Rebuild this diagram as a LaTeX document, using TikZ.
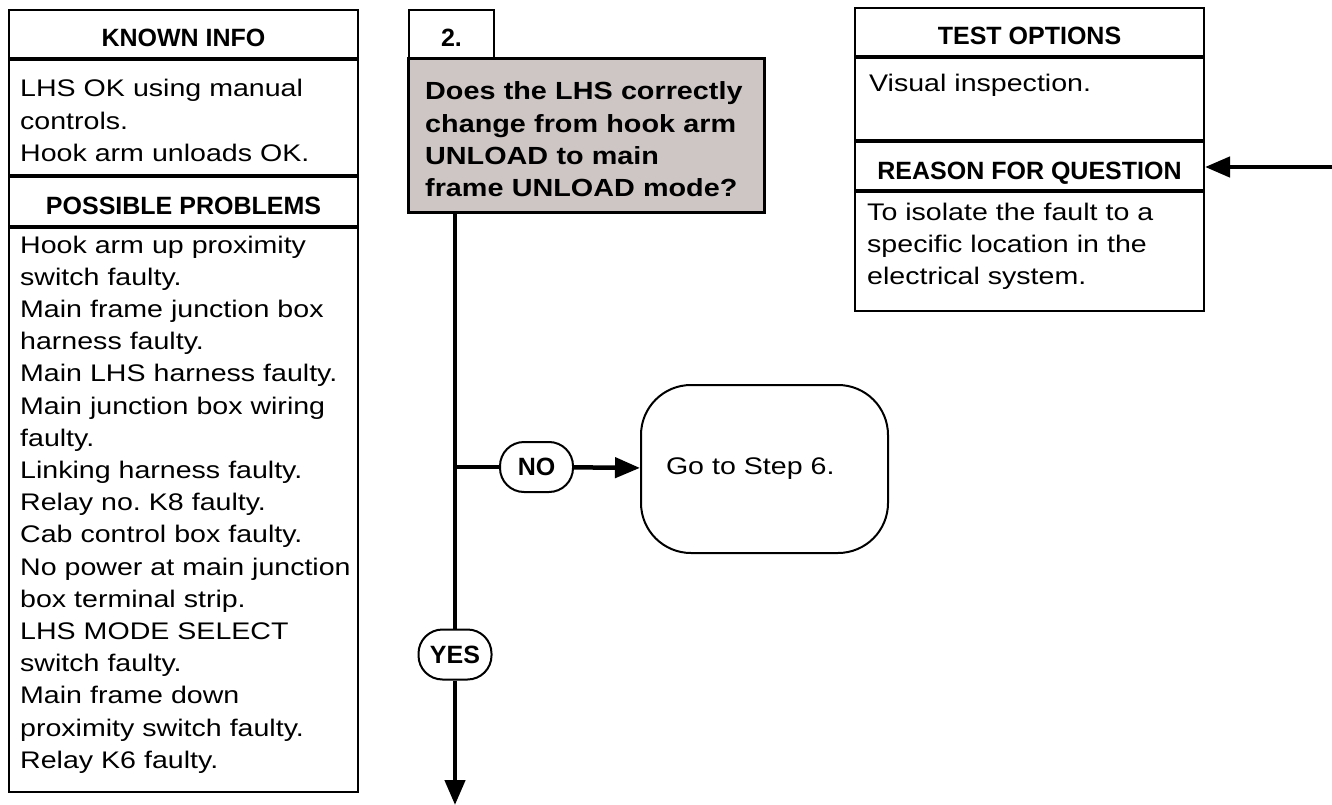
\documentclass[tikz,border=0pt]{standalone}
\usepackage{fontspec}
\setmainfont{Liberation Sans}
\newfontfamily\bodyfont[FakeStretch=1.19]{Liberation Sans}
\newfontfamily\askfont[FakeStretch=1.16]{Liberation Sans}
\usetikzlibrary{arrows.meta, positioning}
\definecolor{askgray}{HTML}{CDC6C4}
\frenchspacing

\begin{document}
\begin{tikzpicture}[x=1pt, y=-1pt,
    panel/.style={draw=black, line width=2pt, inner sep=0pt, anchor=north west, minimum width=349pt},
    headbox/.style={panel, minimum height=48pt, font=\fontsize{25}{30}\selectfont\bfseries, text height=26pt, text depth=0pt},
    bodytext/.style={inner sep=0pt, anchor=base west, text width=400pt, align=left, font=\bodyfont\fontsize{24}{32.2}\selectfont},
    asktext/.style={bodytext, font=\askfont\fontsize{24.8}{32.3}\selectfont\bfseries},
    pill/.style={draw=black, line width=2pt, rounded corners=24pt, minimum width=73pt, minimum height=50pt, inner sep=0pt, font=\fontsize{25}{30}\selectfont\bfseries},
    gobox/.style={draw=black, line width=2pt, rounded corners=50pt, anchor=west, minimum height=168pt, text width=197pt, inner xsep=25pt, align=left, font=\bodyfont\fontsize{24}{32.2}\selectfont},
    flow/.style={line width=4.5pt},
    flowarrow/.style={-{Triangle[length=25pt,width=20pt]}}
  ]
    \useasboundingbox (0,0) rectangle (1332,805);

    % known info / possible problems
    \node[headbox] (known) at (8,9) {KNOWN INFO};
    \node[panel, minimum height=115pt] (knownbox) at (known.south west) {};
    \node[headbox, minimum height=49pt] (problems) at (knownbox.south west) {POSSIBLE PROBLEMS};
    \node[panel, minimum height=564pt] (problemsbox) at (problems.south west) {};
    \node[bodytext] (knowntext) at (20,97) {LHS OK using manual\\controls.\\Hook arm unloads OK.};
    \node[bodytext] (problemstext) at (20,253) {Hook arm up proximity\\switch faulty.\\Main frame junction box\\harness faulty.\\Main LHS harness faulty.\\Main junction box wiring\\faulty.\\Linking harness faulty.\\Relay no.\ K8 faulty.\\Cab control box faulty.\\No power at main junction\\box terminal strip.\\LHS MODE SELECT\\switch faulty.\\Main frame down\\proximity switch faulty.\\Relay K6 faulty.};

    % step 2
    \node[headbox, minimum width=85pt] (step) at (408,9) {2.};
    \node[panel, fill=askgray, line width=3pt, minimum width=356pt, minimum height=154pt] (ask) at (407,57) {};
    \node[asktext] (asktext) at (425,100) {Does the LHS correctly\\change from hook arm\\UNLOAD to main\\frame UNLOAD mode?};

    % test options / reason for question
    \node[headbox] (test) at (854,7) {TEST OPTIONS};
    \node[panel, minimum height=82pt] (testbox) at (test.south west) {};
    \node[headbox] (reason) at (testbox.south west) {REASON FOR QUESTION};
    \node[panel, minimum height=119pt] (reasonbox) at (reason.south west) {};
    \node[bodytext] (testtext) at (869,92) {Visual inspection.};
    \node[bodytext] (reasontext) at (867,220) {To isolate the fault to a\\specific location in the\\electrical system.};

    % flow
    \coordinate (trunktop) at (455,211);
    \coordinate (trunkend) at (455,805);
    \coordinate (feed) at (1332,167);
    \node[pill] (no) at (536.5,467) {NO};
    \node[pill] (yes) at (455,654.5) {YES};
    \node[gobox] (go) at (640,469) {Go to Step 6.};
    \coordinate (nojoin) at (trunktop |- no);

    \draw[flow] (trunktop) -- (yes);
    \draw[flow, flowarrow] (yes) -- (trunkend);
    \draw[flow] (nojoin) -- (no);
    \draw[flow, flowarrow] (no) -- (go);
    \draw[flow, flowarrow] (feed) -- (feed -| reason.east);
\end{tikzpicture}
\end{document}
